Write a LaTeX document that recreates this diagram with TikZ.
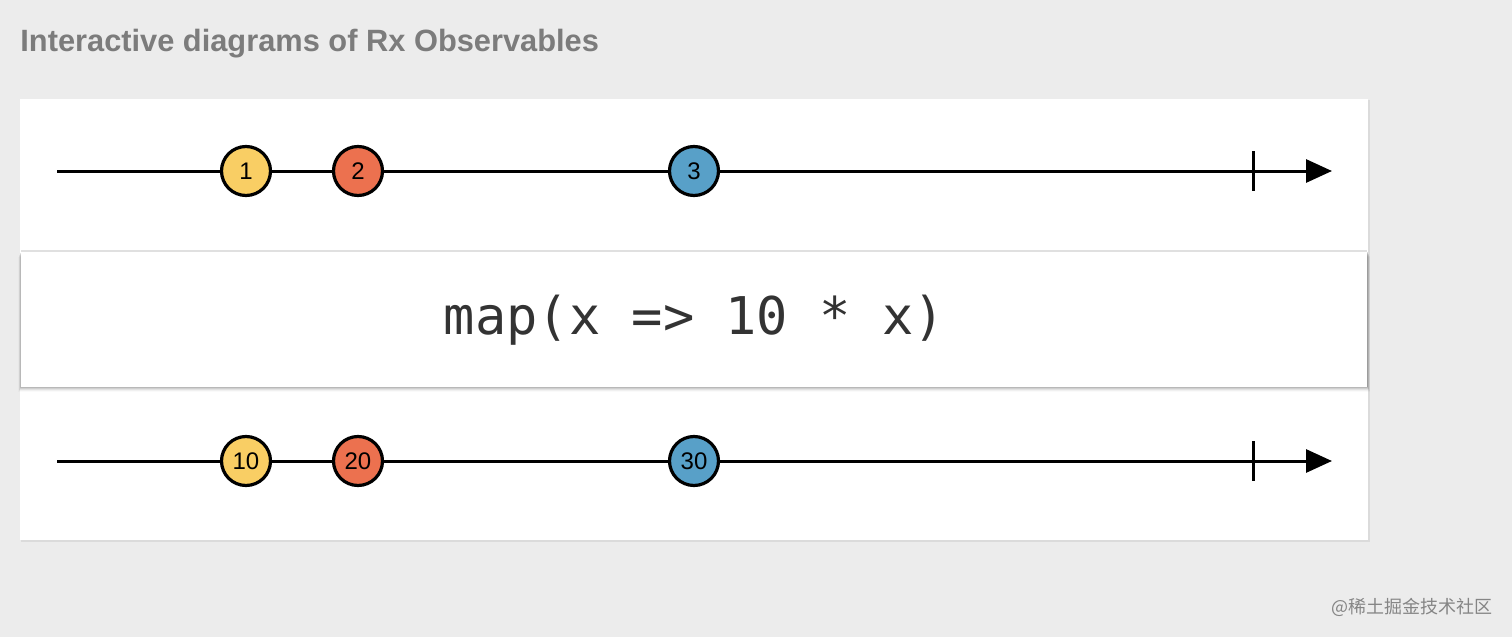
\documentclass[tikz,border=0pt]{standalone}
\usepackage{fontspec}
\setmainfont{Liberation Sans}
\newfontfamily\monofont{DejaVu Sans Mono}
\newfontfamily\cjkfont{Noto Sans CJK SC}
\usetikzlibrary{arrows.meta}
\definecolor{bgc}{HTML}{ECECEC}
\definecolor{titlec}{HTML}{7C7C7C}
\definecolor{ylw}{HTML}{F9CE64}
\definecolor{rd}{HTML}{EC714F}
\definecolor{bl}{HTML}{58A0C8}
\definecolor{txtc}{HTML}{333333}
\definecolor{wmc}{HTML}{858585}
\begin{document}
\begin{tikzpicture}[x=0.5pt,y=-0.5pt,
  timeline/.style={line width=1.5pt,-{Triangle[length=13pt,width=11.5pt]}},
  tickmark/.style={line width=1.5pt},
  marble/.style={circle,draw=black,line width=1.6pt,minimum size=24.5pt,inner sep=0pt,font=\fontsize{12}{14}\selectfont},
  panel/.style={fill=white,draw=none}]
\useasboundingbox (0,0) rectangle (1512,637);
\fill[bgc] (0,0) rectangle (1512,637);
% title
\node[anchor=base west,inner sep=0pt,text=titlec,font=\bfseries\fontsize{15.4}{18}\selectfont] (title) at (20,51) {Interactive diagrams of Rx Observables};
% outer panel with faint shadow
\fill[black!14] (21,100) rectangle (1370,542);
\fill[panel] (20,99) rectangle (1368,540);
% operator box shadow
\foreach \i/\o in {1/0.14,2/0.11,3/0.08,4/0.06,5/0.04,6/0.02}{
  \fill[black,opacity=\o] (21-\i/2,251+\i) rectangle (1367+\i/2,386+\i);
}
\draw[black!12,line width=1pt] (21,251) -- (1367,251);
\node[panel,minimum width=673pt,minimum height=67.5pt,inner sep=0pt,anchor=north west,text=txtc,font=\monofont\fontsize{26}{30}\selectfont] (op) at (21,252) {map(x => 10 * x)};
% top timeline
\coordinate (s1) at (57,171);
\coordinate (e1) at (1332,171);
\draw[timeline] (s1) -- (e1);
\coordinate (t1a) at (1253,151);
\coordinate (t1b) at (1253,191);
\draw[tickmark] (t1a) -- (t1b);
\node[marble,fill=ylw] (a1) at (246,171) {1};
\node[marble,fill=rd] (a2) at (358,171) {2};
\node[marble,fill=bl] (a3) at (694,171) {3};
% bottom timeline
\coordinate (s2) at (57,461);
\coordinate (e2) at (1332,461);
\draw[timeline] (s2) -- (e2);
\coordinate (t2a) at (1253,441);
\coordinate (t2b) at (1253,481);
\draw[tickmark] (t2a) -- (t2b);
\node[marble,fill=ylw] (b1) at (246,461) {10};
\node[marble,fill=rd] (b2) at (358,461) {20};
\node[marble,fill=bl] (b3) at (694,461) {30};
% watermark
\node[anchor=east,inner sep=0pt,text=wmc,font=\cjkfont\fontsize{9}{11}\selectfont] (wm) at (1493,607) {@稀土掘金技术社区};
\end{tikzpicture}
\end{document}
